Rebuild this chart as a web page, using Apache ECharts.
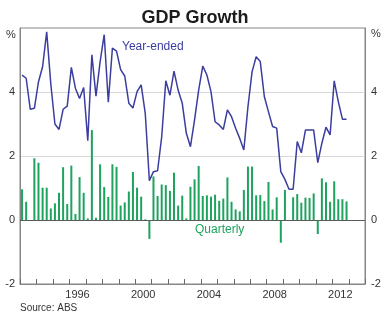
<!DOCTYPE html>
<html>
<head>
<meta charset="utf-8">
<script src="https://cdn.jsdelivr.net/npm/echarts@6/dist/echarts.min.js"></script>
<style>
  html, body { margin: 0; padding: 0; background: #fff; }
  #chart { width: 390px; height: 323px; }
</style>
</head>
<body>
<div id="chart"></div>
<script>
// Quarters covered by the series (Australian GDP, 1993 Q1 to 2012 Q4)
const quarters = [
  '1993Q1','1993Q2','1993Q3','1993Q4','1994Q1','1994Q2','1994Q3','1994Q4',
  '1995Q1','1995Q2','1995Q3','1995Q4','1996Q1','1996Q2','1996Q3','1996Q4',
  '1997Q1','1997Q2','1997Q3','1997Q4','1998Q1','1998Q2','1998Q3','1998Q4',
  '1999Q1','1999Q2','1999Q3','1999Q4','2000Q1','2000Q2','2000Q3','2000Q4',
  '2001Q1','2001Q2','2001Q3','2001Q4','2002Q1','2002Q2','2002Q3','2002Q4',
  '2003Q1','2003Q2','2003Q3','2003Q4','2004Q1','2004Q2','2004Q3','2004Q4',
  '2005Q1','2005Q2','2005Q3','2005Q4','2006Q1','2006Q2','2006Q3','2006Q4',
  '2007Q1','2007Q2','2007Q3','2007Q4','2008Q1','2008Q2','2008Q3','2008Q4',
  '2009Q1','2009Q2','2009Q3','2009Q4','2010Q1','2010Q2','2010Q3','2010Q4',
  '2011Q1','2011Q2','2011Q3','2011Q4','2012Q1','2012Q2','2012Q3','2012Q4'
];

// Quarterly growth, per cent
const quarterly = [
  0.96, 0.57, 0.00, 1.93,  1.79, 1.01, 1.01, 0.36,
  0.52, 0.85, 1.65, 0.50,  1.70, 0.19, 1.34, 0.85,
  0.05, 2.81, 0.07, 1.74,  1.03, 0.72, 1.74, 1.66,
  0.45, 0.55, 0.89, 1.50,  1.01, 0.73, 0.02, -0.59,
  1.36, 0.75, 1.11, 1.09,  0.91, 1.48, 0.45, 0.76,
  0.05, 1.04, 1.27, 1.69,  0.75, 0.77, 0.73, 0.79,
  0.60, 0.67, 1.33, 0.57,  0.33, 0.27, 0.94, 1.67,
  1.67, 0.77, 0.78, 0.59,  1.19, 0.33, 0.71, -0.71,
  0.94, 0.00, 0.71, 0.81,  0.54, 0.70, 0.69, 0.83,
  -0.44, 1.30, 1.18, 0.57, 1.21, 0.65, 0.65, 0.58
];

// Year-ended growth, per cent
const yearEnded = [
  4.53, 4.43, 3.46, 3.49,  4.32, 4.79, 5.88, 4.25,
  3.00, 2.83, 3.46, 3.56,  4.77, 4.11, 3.80, 4.14,
  2.48, 5.16, 3.87, 4.94,  5.79, 3.68, 5.37, 5.28,
  4.70, 4.50, 3.65, 3.50,  4.01, 4.22, 3.33, 1.23,
  1.51, 1.54, 2.60, 4.35,  3.90, 4.65, 4.06, 3.65,
  2.71, 2.29, 3.13, 4.06,  4.81, 4.53, 4.01, 3.07,
  2.97, 2.83, 3.44, 3.23,  2.87, 2.55, 2.19, 3.54,
  4.63, 5.10, 4.95, 3.85,  3.38, 2.92, 2.87, 1.51,
  1.27, 0.96, 0.96, 2.45,  2.10, 2.81, 2.81, 2.81,
  1.79, 2.40, 2.90, 2.66,  4.35, 3.70, 3.15, 3.15
];

// Calendar years shown along the bottom (one band per year) and the labelled ones
const axisYears = [
  '1993','1994','1995','1996','1997','1998','1999','2000','2001','2002','2003',
  '2004','2005','2006','2007','2008','2009','2010','2011','2012','2013'
];
const xLabelYears = ['1996', '2000', '2004', '2008', '2012'];
const yTicks = [-2, 0, 2, 4, 6];

// Place each quarter at its mid-point on a decimal-year axis
function quarterPos(q) {
  return Number(q.slice(0, 4)) + (Number(q.slice(5)) - 1) / 4 + 0.125;
}

const barData = quarters.map((q, i) => [quarterPos(q), quarterly[i]]);
const lineData = quarters.map((q, i) => [quarterPos(q), yearEnded[i]]);

const firstYear = Number(axisYears[0]);
const endYear = Number(axisYears[axisYears.length - 1]) + 1;

// Year boundaries that carry a small tick on the bottom frame
const tickData = axisYears.map(y => [Number(y), yTicks[0]]).concat([[endYear, yTicks[0]]]);

const FONT = 'Liberation Sans, Arial, Helvetica, sans-serif';
const AXIS_GREY = '#868686';
const TICK_GREY = '#6a6a6a';
const TEXT = '#333333';
const BLUE = '#3b3d9f';
const GREEN = '#1ea25e';

const chart = echarts.init(document.getElementById('chart'), null, { renderer: 'canvas' });

const yAxisCommon = {
  type: 'value',
  min: yTicks[0],
  max: yTicks[yTicks.length - 1],
  interval: 2,
  axisLine: { show: true, lineStyle: { color: AXIS_GREY, width: 1 } },
  axisTick: { show: false },
  axisLabel: {
    color: TEXT, fontSize: 11, fontFamily: FONT,
    formatter: v => (v === yTicks[yTicks.length - 1] ? '' : String(v))
  }
};

chart.setOption({
  animation: false,
  backgroundColor: '#ffffff',
  title: {
    text: 'GDP Growth',
    left: 'center',
    top: 4,
    textStyle: { fontSize: 18, fontWeight: 'bold', color: '#1c1c1c', fontFamily: FONT }
  },
  grid: {
    left: 20, right: 25, top: 28, bottom: 39,
    show: true, borderColor: AXIS_GREY, borderWidth: 1,
    backgroundColor: 'transparent'
  },
  xAxis: [
    {
      // Decimal-year scale that positions the quarterly data
      type: 'value',
      min: firstYear, max: endYear,
      position: 'bottom',
      show: false
    },
    {
      // One band per calendar year: labels sit mid-year
      type: 'category',
      data: axisYears,
      boundaryGap: true,
      position: 'bottom',
      axisLine: { show: true, onZero: false, lineStyle: { color: AXIS_GREY } },
      axisTick: { show: false },
      splitLine: { show: false },
      axisLabel: {
        interval: 0,
        color: TEXT, fontSize: 11, fontFamily: FONT, margin: 5,
        formatter: v => (xLabelYears.indexOf(v) >= 0 ? v : '')
      }
    }
  ],
  yAxis: [
    Object.assign({}, yAxisCommon, {
      position: 'left',
      axisLabel: Object.assign({}, yAxisCommon.axisLabel, { margin: 5 }),
      splitLine: {
        show: true, showMinLine: false, showMaxLine: false,
        lineStyle: { color: '#d9d9d9', width: 1 }
      }
    }),
    Object.assign({}, yAxisCommon, {
      position: 'right',
      axisLabel: Object.assign({}, yAxisCommon.axisLabel, { margin: 6 }),
      splitLine: { show: false }
    })
  ],
  series: [
    {
      // Short upward ticks at each year boundary on the bottom frame
      name: 'yearTicks',
      type: 'custom',
      xAxisIndex: 0,
      yAxisIndex: 0,
      silent: true,
      clip: false,
      data: tickData,
      renderItem: (params, api) => {
        const p = api.coord([api.value(0), api.value(1)]);
        const x = Math.round(p[0]) + 0.5;
        return {
          type: 'line',
          shape: { x1: x, y1: p[1], x2: x, y2: p[1] - 5 },
          style: { stroke: TICK_GREY, lineWidth: 1 }
        };
      },
      z: 4
    },
    {
      name: 'Quarterly',
      type: 'bar',
      xAxisIndex: 0,
      yAxisIndex: 0,
      data: barData,
      barWidth: 2,
      itemStyle: { color: GREEN },
      markLine: {
        silent: true,
        symbol: ['none', 'none'],
        label: { show: false },
        lineStyle: { color: '#5a5a5a', width: 1, type: 'solid' },
        data: [{ yAxis: 0 }]
      },
      z: 2
    },
    {
      name: 'Year-ended',
      type: 'line',
      xAxisIndex: 0,
      yAxisIndex: 0,
      data: lineData,
      showSymbol: false,
      lineStyle: { color: BLUE, width: 1.5 },
      itemStyle: { color: BLUE },
      z: 3
    }
  ],
  graphic: [
    { type: 'text', left: 6, top: 29, style: { text: '%', fontSize: 11, fontFamily: FONT, fill: TEXT } },
    { type: 'text', left: 371, top: 28, style: { text: '%', fontSize: 11, fontFamily: FONT, fill: TEXT } },
    { type: 'text', left: 122, top: 41, style: { text: 'Year-ended', fontSize: 12, fontFamily: FONT, fill: BLUE } },
    { type: 'text', left: 195, top: 224, style: { text: 'Quarterly', fontSize: 12, fontFamily: FONT, fill: GREEN } },
    { type: 'text', left: 20, top: 303, style: { text: 'Source: ABS', fontSize: 10, fontFamily: FONT, fill: TEXT } }
  ]
});
</script>
</body>
</html>
